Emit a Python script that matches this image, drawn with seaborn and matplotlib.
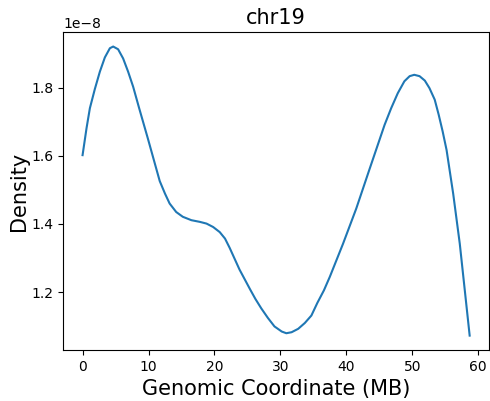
import numpy as np
import seaborn as sns
import matplotlib
matplotlib.use('Agg')
import matplotlib.pyplot as plt

# curve: position in MB, density in units of 1e-8
coord_mb = [0.0, 0.6, 1.11, 1.86, 2.62, 3.38, 4.14, 4.64, 5.39, 6.15, 6.91, 7.67,
            8.58, 9.9, 10.95, 11.7, 12.5, 13.2, 14.2, 15.2, 16.5, 17.8, 18.8,
            19.8, 20.8, 21.6, 22.3, 23.8, 25.4, 26.2, 27.1, 28.1, 29.1, 30.2,
            30.9, 31.7, 32.7, 33.7, 34.7, 35.6, 36.6, 37.5, 39.5, 41.5, 43.5,
            45.8, 46.8, 47.8, 48.8, 49.6, 50.3, 51.1, 51.9, 52.6, 53.4, 54.0,
            54.6, 55.2, 56.2, 57.2, 58.7]
density = [1.602, 1.681, 1.740, 1.796, 1.847, 1.889, 1.916, 1.921, 1.913, 1.886,
           1.847, 1.803, 1.740, 1.651, 1.578, 1.526, 1.489, 1.460, 1.435, 1.421,
           1.411, 1.406, 1.401, 1.391, 1.376, 1.357, 1.330, 1.266, 1.208, 1.180,
           1.152, 1.124, 1.099, 1.084, 1.079, 1.082, 1.092, 1.109, 1.131, 1.168,
           1.205, 1.245, 1.342, 1.445, 1.560, 1.691, 1.740, 1.784, 1.819, 1.834,
           1.838, 1.834, 1.821, 1.799, 1.765, 1.721, 1.672, 1.617, 1.489, 1.342,
           1.072]
chrom = 'chr19'

fig, ax = plt.subplots(figsize=(4.9, 4.01), dpi=100)
fig.subplots_adjust(left=0.129, right=0.998, top=0.920, bottom=0.127)

sns.lineplot(x=coord_mb, y=np.array(density) * 1e-8, ax=ax, color='#1f77b4', linewidth=1.5)

ax.set_title(chrom, fontsize=15)
ax.set_xlabel('Genomic Coordinate (MB)', fontsize=15)
ax.set_ylabel('Density', fontsize=15, labelpad=2)

fig.savefig('out.png', dpi=100)
